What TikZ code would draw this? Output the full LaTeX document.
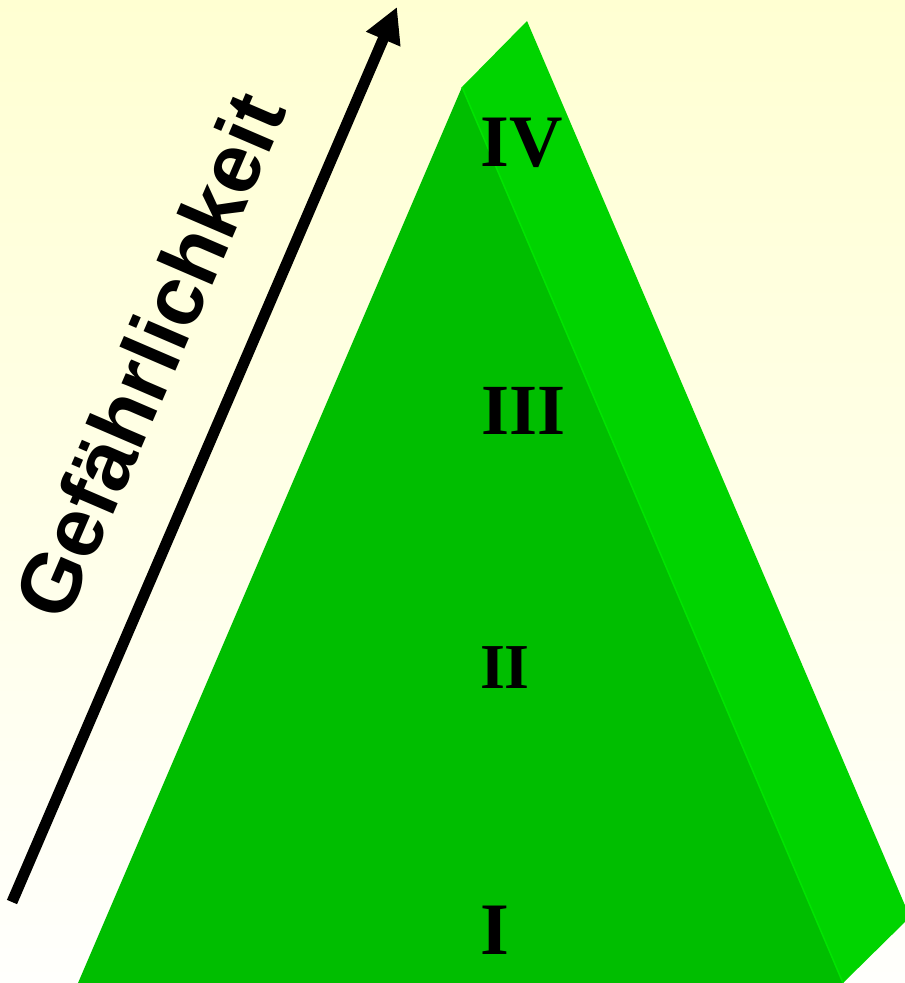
\documentclass[tikz,border=0pt]{standalone}
\usepackage{fontspec}
\setmainfont{Liberation Serif}
\newfontfamily\labelsans{Liberation Sans}
\usetikzlibrary{arrows.meta}
\definecolor{bgtop}{RGB}{255,255,210}
\definecolor{bgbot}{RGB}{255,255,252}
\definecolor{frontgreen}{RGB}{0,190,0}
\definecolor{sidegreen}{RGB}{0,212,0}
\definecolor{ridgegreen}{RGB}{0,228,0}
\tikzset{
  numeral/.style={inner sep=0pt, text=black, font=\bfseries},
  riskarrow/.style={line width=11pt, -{Triangle[length=35pt,width=35pt]}},
}
\begin{document}
\begin{tikzpicture}[x=1pt,y=-1pt]
\useasboundingbox (0,0) rectangle (905,983);
\shade[top color=bgtop, bottom color=bgbot] (0,0) rectangle (905,983);
\begin{scope}
\clip (0,0) rectangle (905,983);
% pyramid corners
\coordinate (apex) at (462,87);
\coordinate (backtop) at (527,21);
\coordinate (backbot) at (910,917);
\coordinate (frontleft) at (78,983);
\coordinate (frontright) at (843,983);
\fill[sidegreen] (apex) -- (backtop) -- (backbot) -- (frontright) -- cycle;
\fill[frontgreen] (frontleft) -- (apex) -- (frontright) -- cycle;
\draw[ridgegreen, line width=1.5pt] (apex) -- (frontright);
\end{scope}
% numerals
\node[numeral, font=\bfseries\fontsize{74}{74}\selectfont] (n4) at (522,143) {IV};
\node[numeral, font=\bfseries\fontsize{72}{72}\selectfont] (n3) at (524,411) {III};
\node[numeral, font=\bfseries\fontsize{64}{64}\selectfont] (n2) at (505,668) {II};
\node[numeral, font=\bfseries\fontsize{74}{74}\selectfont] (n1) at (495,930) {I};
% arrow
\coordinate (arrowstart) at (12,902);
\coordinate (arrowend) at (397,7);
\draw[riskarrow] (arrowstart) -- (arrowend);
\node[rotate=66.7, anchor=base west, inner sep=0pt, font=\labelsans\bfseries\fontsize{84}{84}\selectfont] (label) at (65.9,624.9) {Gefährlichkeit};
\end{tikzpicture}
\end{document}
